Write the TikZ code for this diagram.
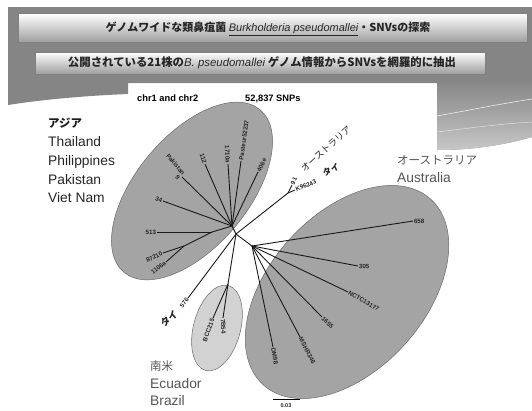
\documentclass[tikz,border=0pt]{standalone}
\usepackage{fontspec}
\setmainfont{Liberation Sans}
\setsansfont{Liberation Sans}
\newfontfamily\cjk{Noto Sans CJK JP}
\definecolor{bggray}{HTML}{858585}
\definecolor{elfill}{HTML}{A4A4A4}
\definecolor{elline}{HTML}{6A6A6A}
\definecolor{safill}{HTML}{D2D2D2}
\definecolor{regtext}{HTML}{555555}
\begin{document}
\begin{tikzpicture}[x=1pt,y=-1pt,
  br/.style={line width=0.9pt, black!90},
  lf/.style={font=\sffamily\fontsize{6.2}{6.5}\selectfont\bfseries, inner sep=0.8pt, text=black!85},
  reg/.style={font=\sffamily\fontsize{13.8}{16}\selectfont, inner sep=0pt, anchor=base west},
  regj/.style={font=\cjk\fontsize{11.5}{14}\selectfont, inner sep=0pt, anchor=base west},
  treej/.style={font=\cjk\fontsize{9.2}{10}\selectfont, inner sep=0pt, text=black!85},
  bar/.style={top color=white, bottom color=black!38, draw=black!50, line width=0.4pt},
  bartext/.style={font=\cjk\bfseries\fontsize{11}{13}\selectfont, text=black!85, inner sep=0pt},
  hdr/.style={font=\sffamily\fontsize{9.3}{11}\selectfont\bfseries, inner sep=0pt, anchor=base west},
  ell/.style={fill=elfill, draw=elline, line width=0.5pt}
]
\useasboundingbox (0,0) rectangle (532,410);
\fill[white] (0,0) rectangle (532,410);
% background band
\fill[bggray] (8,7) -- (532,7) -- (532,137) .. controls (500,146) and (470,150) .. (437,150)
  -- (437,83) -- (128,83) -- (128,94) .. controls (80,96) and (40,100) .. (8,105) -- cycle;
\shade[top color=bggray, bottom color=black!22] (437,80) -- (532,80) -- (532,137)
  .. controls (500,146) and (470,150) .. (437,150) -- cycle;
\draw[white, line width=0.6pt, opacity=0.8] (437,116) .. controls (470,110) and (500,104) .. (532,99);
\draw[white, line width=0.5pt, opacity=0.6] (437,132) .. controls (470,128) and (500,124) .. (532,122);
% title bars
\node[bar, minimum width=509pt, minimum height=29pt, inner sep=0pt] (bar1) at (272.5,28) {};
\node[bartext] (title1) at (268,29) {ゲノムワイドな類鼻疽菌 {\normalfont\itshape\underline{Burkholderia pseudomallei}}・SNVsの探索};
\node[bar, minimum width=450pt, minimum height=22pt, inner sep=0pt] (bar2) at (260,63) {};
\node[bartext, font=\cjk\bfseries\fontsize{11.4}{13}\selectfont] (title2) at (262,63) {公開されている21株の{\normalfont\itshape B. pseudomallei} ゲノム情報からSNVsを網羅的に抽出};
% header
\node[hdr] (chr) at (137,101) {chr1 and chr2};
\node[hdr] (snps) at (245,101) {52,837 SNPs};
% ellipses
\fill[ell, rotate around={50:(192,191)}] (192,191) ellipse [x radius=106, y radius=56];
\fill[ell, rotate around={48:(347,292)}] (347,292) ellipse [x radius=125, y radius=78];
\fill[ell, fill=safill, rotate around={75:(217,328)}] (217,328) ellipse [x radius=44, y radius=23.5];
% region labels
\node[regj, font=\cjk\bfseries\fontsize{11.5}{14}\selectfont, text=black!88] (asia) at (48,127) {アジア};
\node[reg, text=black!85] (thai) at (48,146) {Thailand};
\node[reg, text=black!85] (phil) at (48,165) {Philippines};
\node[reg, text=black!85] (paki) at (48,184) {Pakistan};
\node[reg, text=black!85] (viet) at (48,202) {Viet Nam};
\node[regj, text=regtext] (ausj) at (397,164) {オーストラリア};
\node[reg, text=regtext] (aus) at (397,182) {Australia};
\node[regj, text=regtext] (samj) at (150,370) {南米};
\node[reg, text=regtext] (ecu) at (150,388) {Ecuador};
\node[reg, text=regtext] (bra) at (150,405) {Brazil};
% tree coordinates
\coordinate (root) at (236,234);
\coordinate (hubA) at (232,226);
\coordinate (nA2) at (212,232);
\coordinate (nA3) at (184,246);
\coordinate (nT) at (288,193);
\coordinate (nSA) at (228,284);
\coordinate (nAU) at (252,246);
\coordinate (e34) at (163,201);
\coordinate (e513) at (157,232);
\coordinate (e87210) at (163,253);
\coordinate (e1106a) at (166,262);
\coordinate (ePak) at (182,177);
\coordinate (e112) at (205,164);
\coordinate (e1710a) at (228,164);
\coordinate (ePas) at (241,161);
\coordinate (e406e) at (258,172);
\coordinate (e91) at (292,185);
\coordinate (eK) at (295,190);
\coordinate (e576) at (188,298);
\coordinate (e7B54) at (223,318);
\coordinate (eBCC) at (213,318);
\coordinate (e658) at (413,221);
\coordinate (e305) at (358,266);
\coordinate (eNCTC) at (348,292);
\coordinate (e1655) at (322,317);
\coordinate (eMSHR) at (300,337);
\coordinate (eDM98) at (273,347);
% branches
\draw[br] (root) -- (hubA);
\draw[br] (hubA) -- (e34);
\draw[br] (hubA) -- (nA2);
\draw[br] (nA2) -- (e513);
\draw[br] (nA2) -- (nA3);
\draw[br] (nA3) -- (e87210);
\draw[br] (nA3) -- (e1106a);
\draw[br] (hubA) -- (ePak);
\draw[br] (hubA) -- (e112);
\draw[br] (hubA) -- (e1710a);
\draw[br] (hubA) -- (ePas);
\draw[br] (hubA) -- (e406e);
\draw[br] (root) -- (nT);
\draw[br] (nT) -- (e91);
\draw[br] (nT) -- (eK);
\draw[br] (root) -- (e576);
\draw[br] (root) -- (nSA);
\draw[br] (nSA) -- (e7B54);
\draw[br] (nSA) -- (eBCC);
\draw[br] (root) -- (nAU);
\draw[br] (nAU) -- (e658);
\draw[br] (nAU) -- (e305);
\draw[br] (nAU) -- (eNCTC);
\draw[br] (nAU) -- (e1655);
\draw[br] (nAU) -- (eMSHR);
\draw[br] (nAU) -- (eDM98);
% leaf labels
\node[lf, anchor=east, rotate=-20] (t34) at (e34) {34};
\node[lf, anchor=east] (t513) at (e513) {513};
\node[lf, anchor=east, rotate=25] (t87210) at (e87210) {87210};
\node[lf, anchor=east, rotate=38] (t1106a) at (e1106a) {1106a};
\node[lf, anchor=east, rotate=-50, align=right] (tPak) at (ePak) {Pakistan\\9};
\node[lf, anchor=east, rotate=-72] (t112) at (e112) {112};
\node[lf, anchor=east, rotate=-87] (t1710a) at (e1710a) {1710a};
\node[lf, anchor=west, rotate=82] (tPas) at (ePas) {Pasteur52237};
\node[lf, anchor=west, rotate=62] (t406e) at (e406e) {406e};
\node[lf, anchor=west, rotate=65] (t91) at (e91) {91};
\node[lf, anchor=west, rotate=22] (tK) at (eK) {K96243};
\node[lf, anchor=east, rotate=53] (t576) at (e576) {576};
\node[lf, anchor=west, rotate=-88] (t7B54) at (e7B54) {7B54};
\node[lf, anchor=east, rotate=70] (tBCC) at (eBCC) {BCC215};
\node[lf, anchor=west] (t658) at (e658) {658};
\node[lf, anchor=west, rotate=-5] (t305) at (e305) {305};
\node[lf, anchor=west, rotate=-30] (tNCTC) at (eNCTC) {NCTC13177};
\node[lf, anchor=west, rotate=-45] (t1655) at (e1655) {1655};
\node[lf, anchor=west, rotate=-62] (tMSHR) at (eMSHR) {MSHR346};
\node[lf, anchor=west, rotate=-80] (tDM98) at (eDM98) {DM98};
% country labels in tree
\node[treej, rotate=42] (tAUj) at (326,149) {オーストラリア};
\node[treej, rotate=25, font=\cjk\bfseries\fontsize{8.5}{10}\selectfont] (tThai1) at (331,170) {タイ};
\node[treej, rotate=40, font=\cjk\bfseries\fontsize{9.5}{10}\selectfont] (tThai2) at (169,319) {タイ};
% scale bar
\coordinate (sb1) at (273,399);
\coordinate (sb2) at (300,399);
\draw[line width=0.8pt] (sb1) -- (sb2);
\node[lf, font=\sffamily\fontsize{5.5}{6}\selectfont\bfseries] (sbt) at (286,406) {0.03};
\end{tikzpicture}
\end{document}
